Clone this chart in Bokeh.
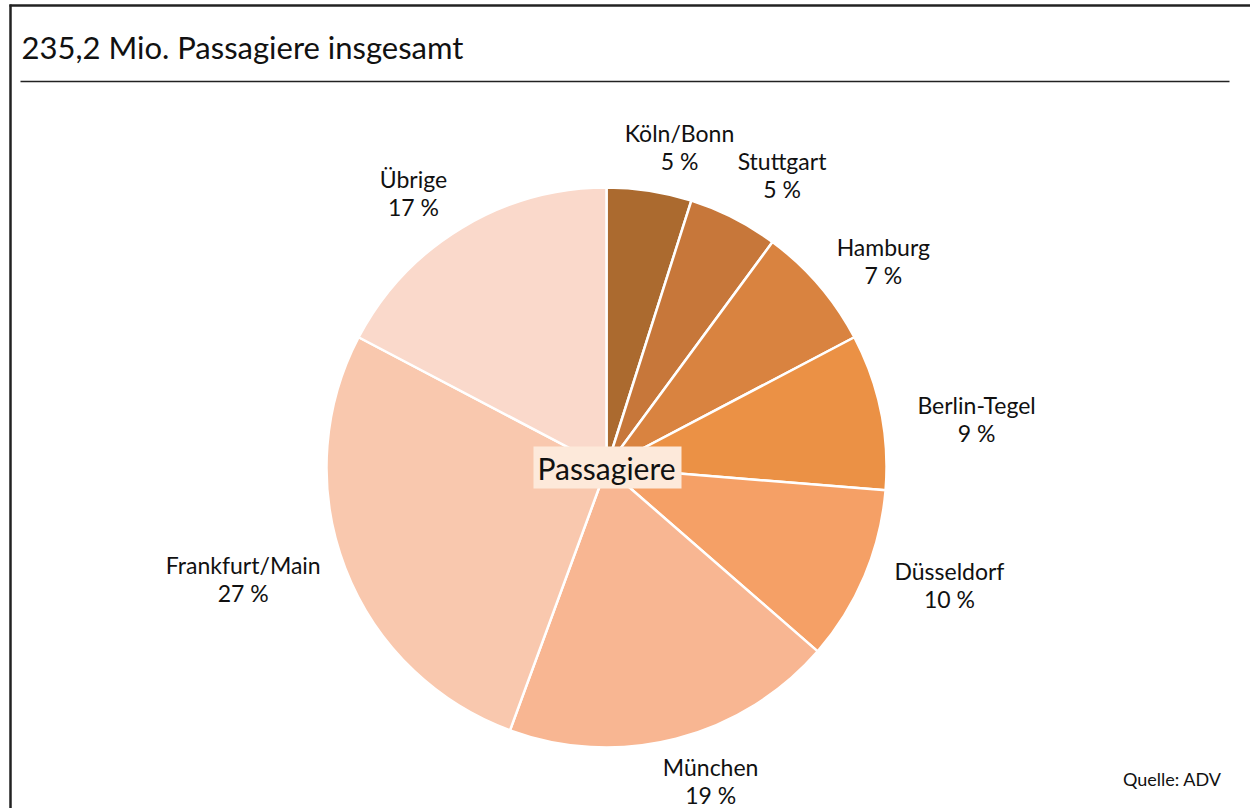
import math
from bokeh.plotting import figure
from bokeh.models import Range1d, ColumnDataSource
from bokeh.core.properties import value
from bokeh.embed import file_html
from bokeh.resources import INLINE

# ---- data ----
airports = ["Köln/Bonn", "Stuttgart", "Hamburg", "Berlin-Tegel",
            "Düsseldorf", "München", "Frankfurt/Main", "Übrige"]
shares = [4.9, 5.2, 7.2, 9.0, 10.1, 19.2, 27.1, 17.3]
share_labels = ["5 %", "5 %", "7 %", "9 %", "10 %", "19 %", "27 %", "17 %"]
colors = ["#AB6A2F", "#C7773A", "#D98340", "#EB9145",
          "#F5A066", "#F8B692", "#F9C8AE", "#FAD9CB"]
title_text = "235,2 Mio. Passagiere insgesamt"
center_text = "Passagiere"
source_text = "Quelle: ADV"

FONT = "Lato"
W, H = 1250, 808


def Y(sy):
    return H - sy


p = figure(width=W, height=H, output_backend="svg", toolbar_location=None,
           x_range=Range1d(0, W), y_range=Range1d(0, H),
           min_border=0, outline_line_color=None)
p.axis.visible = False
p.grid.visible = False
p.background_fill_color = "white"
p.border_fill_color = "white"

# frame
p.segment(x0=[10], y0=[Y(4)], x1=[10], y1=[Y(H + 5)], line_color="#222222", line_width=2.5)
p.segment(x0=[9], y0=[Y(5)], x1=[W + 5], y1=[Y(5)], line_color="#222222", line_width=2.5)
# title rule
p.segment(x0=[20], y0=[Y(81)], x1=[1229], y1=[Y(81)], line_color="#222222", line_width=1.5)

p.text(x=[21], y=[Y(46)], text=[title_text], text_font=value(FONT),
       text_font_size="31px", text_align="left", text_baseline="middle",
       text_color="#111111")

# pie
cx, cy, R = 606, Y(467), 280
total = sum(shares)
starts, ends, mids = [], [], []
cum = 0.0
for s in shares:
    a0 = cum / total
    cum += s
    a1 = cum / total
    starts.append(math.radians(90 - a1 * 360))
    ends.append(math.radians(90 - a0 * 360))
    mids.append((a0 + a1) / 2 * 2 * math.pi)

src = ColumnDataSource(dict(start=starts, end=ends, color=colors))
p.wedge(x=cx, y=cy, radius=R, start_angle="start", end_angle="end",
        fill_color="color", line_color="white", line_width=2.5, source=src)

# labels: placed outside along the mid angle, nudged towards the horizontal
lx, ly1, ly2 = [], [], []
for m, name in zip(mids, airports):
    m2 = m + math.radians(4) * (1 if math.sin(2 * m) > 0 else -1)
    hw = len(name) * 5.6
    r = R + 40 + 0.8 * hw * abs(math.sin(m2))
    x = cx + r * math.sin(m2)
    y = cy + r * math.cos(m2)
    lx.append(x)
    ly1.append(y + 14)
    ly2.append(y - 14)
p.text(x=lx, y=ly1, text=airports, text_font=value(FONT), text_font_size="23px",
       text_align="center", text_baseline="middle", text_color="#111111")
p.text(x=lx, y=ly2, text=share_labels, text_font=value(FONT), text_font_size="23px",
       text_align="center", text_baseline="middle", text_color="#111111")

# center label
p.rect(x=[607], y=[cy], width=148, height=42, fill_color="#FDE9DA", line_color=None)
p.text(x=[606], y=[cy], text=[center_text], text_font=value(FONT), text_font_size="30px",
       text_align="center", text_baseline="middle", text_color="#111111")

# source
p.text(x=[1221], y=[Y(778)], text=[source_text], text_font=value(FONT), text_font_size="18px",
       text_align="right", text_baseline="middle", text_color="#111111")

open("out.html", "w").write(file_html(p, INLINE))
